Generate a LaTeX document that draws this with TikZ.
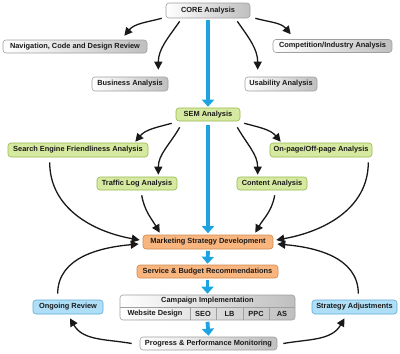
\documentclass[tikz,border=0pt]{standalone}
\usepackage{fontspec}
\setmainfont{Liberation Sans}
\usetikzlibrary{arrows.meta,calc}
\definecolor{grn}{HTML}{D6E9A0}
\definecolor{grnb}{HTML}{98B850}
\definecolor{org}{HTML}{F8B57E}
\definecolor{orgb}{HTML}{CC8A52}
\definecolor{blf}{HTML}{AEDFF7}
\definecolor{blb}{HTML}{5FA9D6}
\definecolor{flow}{HTML}{1CA3E0}
\definecolor{txt}{HTML}{1A1A1A}
\begin{document}
\begin{tikzpicture}[x=1pt,y=1pt,
  base/.style={rounded corners=3pt,inner sep=0pt,font=\fontsize{7.4}{8}\selectfont\bfseries,text=txt,line width=0.6pt,align=center},
  graybox/.style={base,draw=gray!75,left color=white,right color=gray!50},
  grnbox/.style={base,draw=grnb,fill=grn},
  orgbox/.style={base,draw=orgb,fill=org},
  blubox/.style={base,draw=blb,fill=blf},
  bk/.style={line width=1.3pt,black!90,-{Triangle[length=8pt,width=8pt]}},
  blu/.style={line width=3.8pt,flow,-{Triangle[length=7pt,width=12pt]}},
  cell/.style={font=\fontsize{7.4}{8}\selectfont\bfseries,text=txt,inner sep=0pt}
]
\useasboundingbox (0,0) rectangle (400,-354);
% gray nodes
\node[graybox,minimum width=84pt,minimum height=15pt] (core) at (208,-10.5) {CORE Analysis};
\node[graybox,minimum width=144pt,minimum height=13pt] (nav) at (75,-46.5) {Navigation, Code and Design Review};
\node[graybox,minimum width=119pt,minimum height=13pt] (comp) at (332.5,-46) {Competition/Industry Analysis};
\node[graybox,minimum width=76pt,minimum height=14pt] (bus) at (130,-84) {Business Analysis};
\node[graybox,minimum width=72pt,minimum height=14pt] (usa) at (281,-84) {Usability Analysis};
% green nodes
\node[grnbox,minimum width=64pt,minimum height=13pt] (sem) at (208,-114.5) {SEM Analysis};
\node[grnbox,minimum width=140pt,minimum height=14pt] (sef) at (78,-150) {Search Engine Friendliness Analysis};
\node[grnbox,minimum width=102pt,minimum height=14pt] (onp) at (321,-150) {On-page/Off-page Analysis};
\node[grnbox,minimum width=80pt,minimum height=13pt] (traf) at (137,-183.5) {Traffic Log Analysis};
\node[grnbox,minimum width=70pt,minimum height=13pt] (cont) at (272,-183.5) {Content Analysis};
% orange nodes
\node[orgbox,minimum width=130pt,minimum height=14pt] (msd) at (208,-242) {Marketing Strategy Development};
\node[orgbox,minimum width=141pt,minimum height=13pt] (sbr) at (207.5,-271.5) {Service \& Budget Recommendations};
% campaign
\node[graybox,minimum width=175pt,minimum height=25pt] (camp) at (207.5,-307.5) {};
\node[cell] (ci) at (207.5,-301) {Campaign Implementation};
\draw[gray!75,line width=0.6pt] (camp.west) -- (camp.east);
\foreach \xx in {190,216,243,269}{
  \draw[gray!75,line width=0.6pt] (\xx,-307.5) -- (\xx,-320);
}
\node[cell] (wd) at (155,-314) {Website Design};
\node[cell] (seo) at (203,-314) {SEO};
\node[cell] (lb) at (229.5,-314) {LB};
\node[cell] (ppc) at (256,-314) {PPC};
\node[cell] (as) at (282,-314) {AS};
\node[graybox,minimum width=137pt,minimum height=13pt] (ppm) at (208.5,-343.5) {Progress \& Performance Monitoring};
% blue nodes
\node[blubox,minimum width=70pt,minimum height=14pt] (ongo) at (68,-307) {Ongoing Review};
\node[blubox,minimum width=85pt,minimum height=14pt] (stra) at (354.5,-307) {Strategy Adjustments};
% blue flow arrows
\draw[blu] ([yshift=-2pt]core.south) -- ([yshift=1pt]sem.north);
\draw[blu] ([yshift=-4pt]sem.south) -- ([yshift=1.5pt]msd.north);
\draw[blu] ([yshift=-1.5pt]msd.south) -- ([yshift=1pt]sbr.north);
\draw[blu] ([yshift=-1.5pt]sbr.south) -- ([yshift=1pt]camp.north);
\draw[blu] ([yshift=-1.5pt]camp.south) -- ([yshift=1pt]ppm.north);
% black arrows from CORE
\draw[bk] ($(core.south west)+(-4,0)$) to[out=195,in=50] ($(nav.north east)+(-23,4)$);
\draw[bk] ($(core.south west)+(14,-3)$) to[out=235,in=90] ($(bus.north east)+(-10,7)$);
\draw[bk] ($(core.south east)+(-13,-3)$) to[out=-55,in=90] ($(usa.north west)+(13,7)$);
\draw[bk] ($(core.south east)+(5,0)$) to[out=-15,in=130] ($(comp.north west)+(18,5)$);
% black arrows from SEM
\draw[bk] ($(sem.south west)+(-4,-2)$) to[out=195,in=50] ($(sef.north east)+(-13,1)$);
\draw[bk] ($(sem.south west)+(4,-6)$) to[out=240,in=90] ($(traf.north east)+(-19,2)$);
\draw[bk] ($(sem.south east)+(-3,-6)$) to[out=-60,in=90] ($(cont.north west)+(21,2)$);
\draw[bk] ($(sem.south east)+(4,-2)$) to[out=-15,in=130] ($(onp.north west)+(11,1)$);
% into marketing
\draw[bk] ($(sef.south west)+(42,-5)$) to[out=-90,in=170] ($(msd.west)+(-3,2)$);
\draw[bk] ($(traf.south west)+(45,-5)$) to[out=-80,in=120] ($(msd.north west)+(17,2)$);
\draw[bk] ($(cont.south west)+(38,-5)$) to[out=-100,in=60] ($(msd.north east)+(-18,2)$);
\draw[bk] ($(onp.south east)+(-4,-5)$) to[out=-90,in=10] ($(msd.east)+(3,2)$);
\draw[bk] ($(ongo.north west)+(25,6)$) to[out=90,in=185] ($(msd.west)+(-4,-2)$);
\draw[bk] ($(stra.north east)+(-39,6)$) to[out=90,in=-5] ($(msd.east)+(4,-2)$);
% monitoring loops
\draw[bk] ($(ppm.west)+(-8,0)$) to[out=170,in=-60] ($(ongo.south)+(2,-4)$);
\draw[bk] ($(ppm.east)+(6,0)$) to[out=10,in=240] ($(stra.south)+(-10,-4)$);
\end{tikzpicture}
\end{document}
